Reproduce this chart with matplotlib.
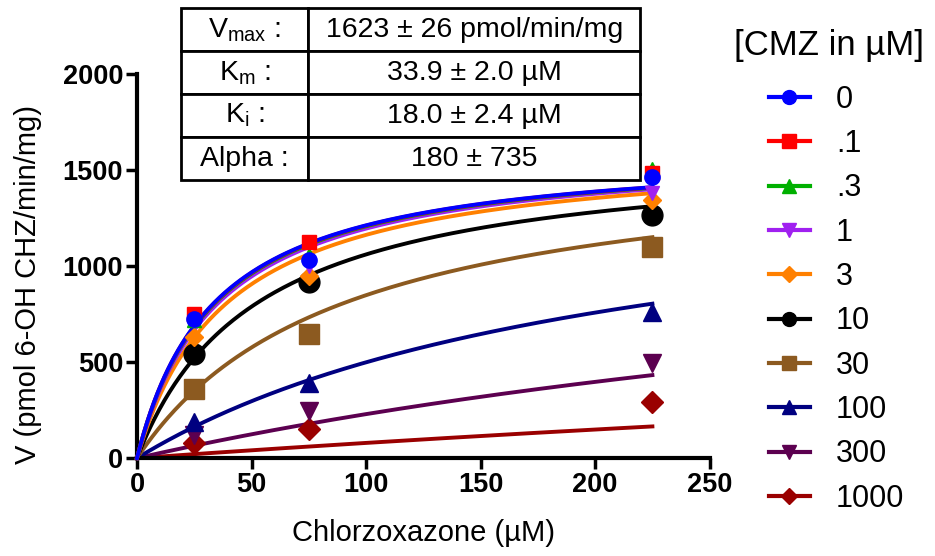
import numpy as np
import matplotlib.pyplot as plt

plt.rcParams["font.family"] = ["Liberation Sans", "DejaVu Sans"]
plt.rcParams["mathtext.fontset"] = "custom"
plt.rcParams["mathtext.rm"] = "Liberation Sans"

# substrate concentrations (uM)
substrate = [25, 75, 225]

# inhibitor (CMZ) concentrations and labels
inhibitor = [0, 0.1, 0.3, 1, 3, 10, 30, 100, 300, 1000]
labels = ["0", ".1", ".3", "1", "3", "10", "30", "100", "300", "1000"]

rates = [
    [725, 1030, 1465],
    [750, 1125, 1485],
    [720, 1060, 1505],
    [715, 1000, 1380],
    [630, 950, 1345],
    [540, 915, 1265],
    [360, 645, 1100],
    [188, 390, 760],
    [120, 245, 495],
    [78, 150, 290],
]

colors = ["#0000FF", "#FF0000", "#00B000", "#A020F0", "#FF8000",
          "#000000", "#8C5A20", "#000080", "#5C0050", "#9A0000"]
markers = ["o", "s", "^", "v", "D", "o", "s", "^", "v", "D"]
sizes = [11, 10, 10, 10, 9, 15, 14, 13, 13, 11]

# mixed-model fit parameters
vmax, km, ki, alpha = 1623.0, 33.9, 18.0, 180.0
table_rows = [
    [r"$\mathregular{V_{max}}$ :", "1623 ± 26 pmol/min/mg"],
    [r"$\mathregular{K_{m}}$ :", "33.9 ± 2.0 µM"],
    [r"$\mathregular{K_{i}}$ :", "18.0 ± 2.4 µM"],
    ["Alpha :", "180 ± 735"],
]

fig = plt.figure(figsize=(9.35, 5.56), dpi=100)
ax = fig.add_axes([0.1465, 0.176, 0.6125, 0.691])

s_fit = np.linspace(0, 225, 300)
handles = []
for i in reversed(range(len(inhibitor))):
    conc = inhibitor[i]
    v_app = vmax / (1 + conc / (alpha * ki))
    km_app = km * (1 + conc / ki) / (1 + conc / (alpha * ki))
    ax.plot(s_fit, v_app * s_fit / (km_app + s_fit), color=colors[i], lw=2.8,
            zorder=2 + (10 - i) * 0.1, clip_on=False)
    ax.plot(substrate, rates[i], ls="none", marker=markers[i], ms=sizes[i],
            color=colors[i], zorder=3 + (10 - i) * 0.1, clip_on=False)

for i in range(len(inhibitor)):
    h, = ax.plot([], [], color=colors[i], lw=3, marker=markers[i],
                 ms=10 if markers[i] != "D" else 8)
    handles.append(h)

ax.set_xlim(0, 250)
ax.set_ylim(0, 2000)
ax.set_xticks(np.arange(0, 251, 50))
ax.set_yticks(np.arange(0, 2001, 500))
for side in ["top", "right"]:
    ax.spines[side].set_visible(False)
for side in ["left", "bottom"]:
    ax.spines[side].set_linewidth(3)
ax.tick_params(width=2.5, length=8, labelsize=19.5, pad=2)
for lbl in ax.get_xticklabels() + ax.get_yticklabels():
    lbl.set_fontweight("bold")
ax.set_xlabel("Chlorzoxazone (µM)", fontsize=21)
ax.set_ylabel("V (pmol 6-OH CHZ/min/mg)", fontsize=21)
ax.xaxis.set_label_coords(0.5, -0.158)
ax.yaxis.set_label_coords(-0.165, 0.453)

fig.legend(handles, labels, loc="upper left", bbox_to_anchor=(0.822, 0.848),
           frameon=False, fontsize=22, handlelength=1.35, handletextpad=0.85,
           labelspacing=0.47, borderpad=0, borderaxespad=0)
fig.text(0.887, 0.918, "[CMZ in µM]", fontsize=25, ha="center", va="center")

tax = fig.add_axes([0.1936, 0.676, 0.491, 0.309])
tax.axis("off")
tbl = tax.table(cellText=table_rows, cellLoc="center", bbox=[0, 0, 1, 1],
                colWidths=[0.277, 0.723])
tbl.auto_set_font_size(False)
for cell in tbl.get_celld().values():
    cell.set_linewidth(2)
    cell.get_text().set_fontsize(20.5)

fig.savefig("out.png", dpi=100)
